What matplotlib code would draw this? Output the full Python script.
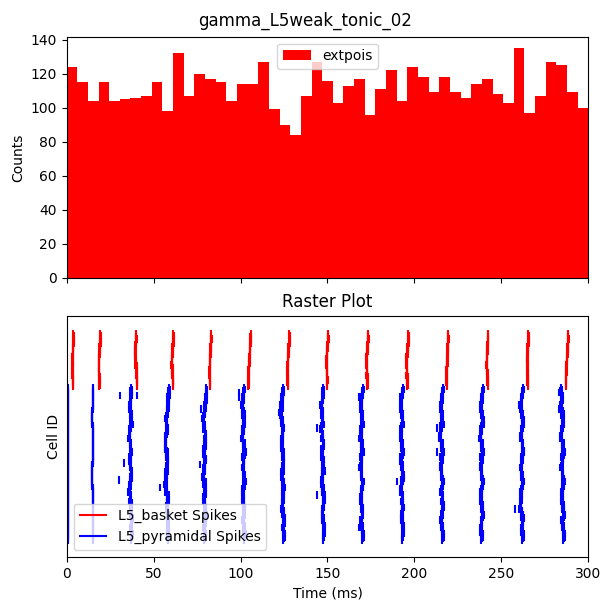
#!/usr/bin/env python3
"""
Rebuild the gamma_L5weak_tonic_02 figure: input spike histogram on top,
L5 basket / pyramidal raster below. Saves out.png.
"""

import numpy as np
import matplotlib
matplotlib.use("Agg")
import matplotlib.pyplot as plt

TITLE = "gamma_L5weak_tonic_02"

# extpois input histogram: 49 bins from 0 to 300 ms
HIST_EDGES = np.linspace(0, 300, 50)
HIST_COUNTS = [124, 115, 104, 115, 104, 105, 106, 107, 115, 98,
               132, 107, 120, 117, 115, 104, 114, 114, 127, 99,
               90, 84, 107, 127, 116, 103, 113, 117, 96, 111,
               122, 104, 124, 118, 109, 118, 109, 106, 114, 117,
               108, 103, 135, 97, 107, 127, 125, 109, 100]

# raster: spike time of each block of cells, one row per gamma volley
N_BASKET = 35
BASKET_BLOCK = 7          # cells per block (5 blocks)
N_PYRAMIDAL = 100
PYRAMIDAL_BLOCK = 5       # cells per block (20 blocks)

BASKET_BLOCK_TIMES = [
    [3.9, 3.6, 3.3, 3.3, 3.5],
    [19.3, 19.0, 18.6, 18.6, 18.9],
    [39.9, 39.4, 39.6, 40.2, 40.4],
    [61.3, 60.9, 60.5, 60.7, 61.0],
    [83.1, 82.8, 82.4, 82.2, 82.3],
    [105.8, 105.4, 105.0, 104.6, 104.5],
    [128.1, 127.6, 127.2, 127.0, 127.1],
    [150.3, 149.8, 149.5, 149.7, 149.8],
    [173.3, 172.8, 172.4, 172.6, 172.8],
    [196.5, 196.0, 195.4, 195.6, 195.8],
    [219.3, 219.0, 218.7, 218.5, 218.5],
    [242.2, 241.8, 241.6, 241.7, 242.0],
    [265.5, 265.0, 264.7, 264.9, 265.0],
    [288.3, 288.0, 287.6, 287.3, 287.1],
]

# small per-cell lag (ms) inside a volley
BASKET_CELL_LAG = [0.0, 0.2, -0.1, 0.3, 0.1, -0.2, 0.2,
                   0.1, -0.1, 0.3, 0.0, 0.2, -0.2, 0.1,
                   0.3, 0.0, -0.1, 0.2, 0.1, 0.3, -0.2,
                   0.1, 0.2, -0.1, 0.0, 0.3, 0.1, -0.2,
                   0.2, 0.0, 0.3, -0.1, 0.1, 0.2, 0.0]

PYRAMIDAL_BLOCK_TIMES = [
    [0.6] * 20,
    [15.0, 15.0, 14.9, 14.5, 14.6, 14.9, 15.0, 14.9, 14.9, 15.0,
     14.8, 14.4, 14.5, 14.9, 15.0, 14.9, 15.0, 14.9, 14.9, 15.0],
    [37.2, 36.8, 36.5, 36.9, 37.3, 36.4, 36.0, 36.6, 37.0, 36.3,
     36.8, 37.1, 36.5, 36.0, 36.6, 37.2, 37.0, 37.4, 37.1, 37.3],
    [58.7, 58.5, 58.2, 57.6, 57.2, 57.8, 57.0, 56.6, 57.3, 57.9,
     57.5, 57.1, 56.8, 57.4, 58.0, 57.6, 58.1, 58.3, 58.0, 58.4],
    [80.4, 80.1, 79.6, 79.0, 78.6, 79.2, 79.8, 79.4, 78.8, 79.5,
     79.1, 78.5, 79.3, 79.7, 79.0, 79.4, 79.9, 79.6, 79.2, 79.5],
    [101.8, 101.4, 101.0, 101.6, 102.0, 101.5, 101.1, 101.7, 102.2, 101.6,
     101.3, 101.9, 102.1, 101.5, 101.2, 101.8, 102.0, 101.6, 101.9, 102.2],
    [124.5, 124.0, 123.6, 123.2, 123.8, 124.4, 124.0, 123.5, 124.1, 124.6,
     124.2, 123.7, 124.3, 124.8, 124.4, 123.9, 124.5, 124.9, 124.6, 124.8],
    [147.6, 147.2, 146.5, 146.9, 147.3, 146.6, 147.0, 147.5, 146.8, 147.2,
     147.7, 147.1, 146.6, 147.3, 147.8, 147.4, 147.0, 147.5, 147.9, 147.6],
    [170.3, 169.6, 169.2, 169.7, 170.1, 169.5, 169.0, 169.6, 170.0, 169.4,
     168.9, 169.5, 170.2, 169.7, 169.1, 169.6, 170.0, 169.3, 169.8, 170.3],
    [193.3, 192.5, 192.1, 192.8, 193.2, 192.4, 192.0, 192.6, 193.1, 192.3,
     192.8, 193.3, 192.6, 192.2, 192.9, 193.2, 192.5, 192.9, 193.4, 193.1],
    [216.3, 215.8, 215.2, 215.6, 216.0, 215.1, 214.7, 215.5, 216.1, 215.6,
     215.0, 215.7, 216.2, 215.4, 215.9, 216.4, 215.8, 215.3, 215.9, 216.3],
    [239.2, 238.7, 238.2, 238.8, 239.3, 238.4, 237.8, 238.5, 239.1, 238.6,
     238.0, 238.7, 239.2, 238.5, 238.0, 238.8, 239.3, 238.6, 238.1, 238.7],
    [262.2, 261.6, 261.0, 261.7, 262.3, 261.8, 261.2, 261.9, 262.4, 261.7,
     261.1, 261.8, 262.3, 261.5, 261.0, 260.8, 261.6, 262.2, 261.7, 262.3],
    [284.3, 284.8, 284.4, 285.0, 285.5, 284.8, 284.3, 285.1, 285.6, 285.0,
     284.5, 285.2, 285.7, 285.1, 284.6, 285.3, 285.8, 284.9, 285.4, 285.8],
]

# per-cell lag (ms) of pyramidal cells inside a volley
PYRAMIDAL_CELL_LAG = [
    0.0, 0.6, -0.5, 0.3, -0.2, 0.7, -0.6, 0.2, 0.5, -0.3,
    0.4, -0.7, 0.1, 0.6, -0.4, 0.3, -0.1, 0.8, -0.5, 0.2,
    -0.6, 0.4, 0.0, -0.3, 0.7, -0.2, 0.5, -0.7, 0.3, 0.1,
    0.6, -0.4, 0.2, -0.6, 0.4, 0.0, 0.7, -0.3, 0.5, -0.1,
    -0.5, 0.3, 0.8, -0.2, 0.1, -0.7, 0.4, 0.6, -0.4, 0.2,
    0.5, -0.1, -0.6, 0.3, 0.7, -0.3, 0.0, 0.4, -0.5, 0.6,
    -0.2, 0.8, 0.1, -0.6, 0.3, 0.5, -0.4, 0.2, -0.7, 0.4,
    0.6, -0.3, 0.0, 0.7, -0.5, 0.2, 0.4, -0.2, 0.6, -0.6,
    0.3, 0.1, -0.4, 0.7, -0.1, 0.5, -0.6, 0.2, 0.4, -0.3,
    0.6, -0.5, 0.1, 0.3, -0.2, 0.7, -0.4, 0.5, 0.0, -0.3,
]
# the first two pyramidal volleys are tight, no per-cell lag
PYRAMIDAL_TIGHT_VOLLEYS = [0, 1]

# stray pyramidal spikes off the main volleys (cell index, time ms)
PYRAMIDAL_EXTRA_CELLS = [5, 49, 60, 5, 65, 14, 50, 3, 6, 16, 26, 70,
                         91, 6, 61, 26, 42, 79, 3, 14]
PYRAMIDAL_EXTRA_TIMES = [30.6, 33.0, 30.1, 40.5, 53.8, 77.5, 76.5, 99.0,
                         99.3, 122.0, 143.9, 143.9, 167.9, 168.3, 190.0,
                         212.9, 213.0, 257.8, 282.9, 283.0]


def build_trains(n_cells, block_size, block_times, cell_lag, tight=()):
    trains = [[] for _ in range(n_cells)]
    for v, volley in enumerate(block_times):
        for b, t in enumerate(volley):
            for c in range(b * block_size, (b + 1) * block_size):
                lag = 0.0 if v in tight else cell_lag[c]
                trains[c].append(t + lag)
    return trains


def main():
    fig, (ax_hist, ax_raster) = plt.subplots(2, 1, figsize=(6.11, 6.11),
                                             dpi=100, sharex=True)
    fig.subplots_adjust(left=0.109, right=0.963, top=0.94, bottom=0.0884,
                        hspace=0.156)
    fig.suptitle(TITLE)

    # input histogram
    centers = 0.5 * (HIST_EDGES[:-1] + HIST_EDGES[1:])
    ax_hist.hist(centers, bins=HIST_EDGES, weights=HIST_COUNTS,
                 color='red', label='extpois')
    ax_hist.set_ylabel('Counts')
    ax_hist.legend(loc='upper center')

    # raster
    basket = build_trains(N_BASKET, BASKET_BLOCK, BASKET_BLOCK_TIMES,
                          BASKET_CELL_LAG)
    pyramidal = build_trains(N_PYRAMIDAL, PYRAMIDAL_BLOCK, PYRAMIDAL_BLOCK_TIMES,
                             PYRAMIDAL_CELL_LAG, tight=PYRAMIDAL_TIGHT_VOLLEYS)
    for cell, t in zip(PYRAMIDAL_EXTRA_CELLS, PYRAMIDAL_EXTRA_TIMES):
        pyramidal[cell].append(t)

    ev_b = ax_raster.eventplot(basket, lineoffsets=np.arange(N_BASKET),
                               linelengths=5, colors='red')
    ev_p = ax_raster.eventplot(pyramidal,
                               lineoffsets=np.arange(N_PYRAMIDAL) + N_BASKET,
                               linelengths=5, colors='blue')
    ev_b[0].set_label('L5_basket Spikes')
    ev_p[0].set_label('L5_pyramidal Spikes')

    ax_raster.set_ylim(145.2, -12)
    ax_raster.set_yticks([])
    ax_raster.set_xlim(0, 300)
    ax_raster.set_title('Raster Plot')
    ax_raster.set_xlabel('Time (ms)')
    ax_raster.set_ylabel('Cell ID')
    ax_raster.legend(handles=[ev_b[0], ev_p[0]], loc='lower left')

    fig.savefig('out.png', dpi=100)
    plt.close(fig)


if __name__ == "__main__":
    main()
